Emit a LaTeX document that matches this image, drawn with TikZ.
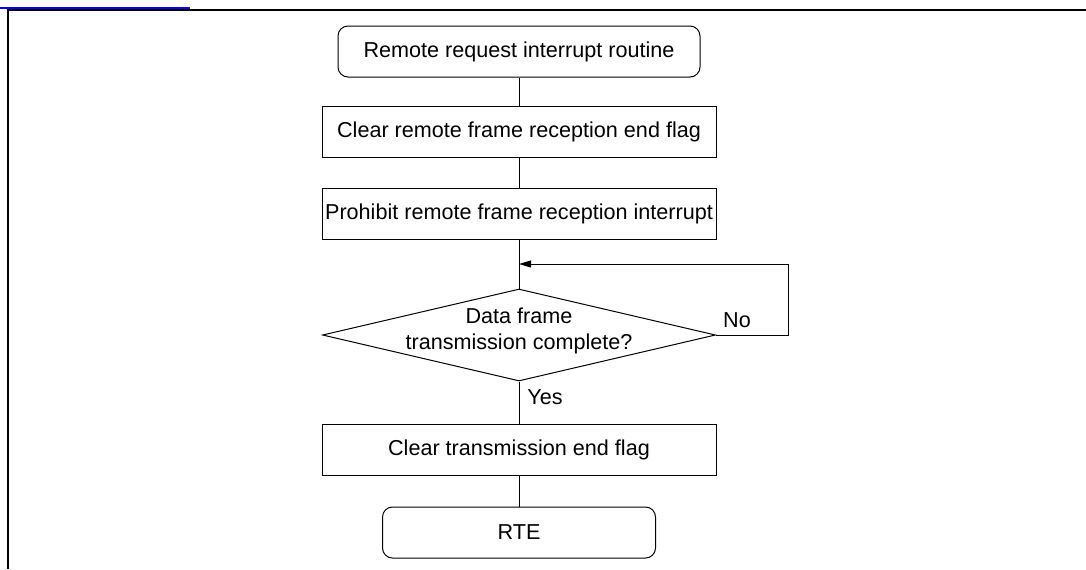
\documentclass[tikz,border=0pt]{standalone}
\usepackage{fontspec}
\setmainfont{Liberation Sans}
\usetikzlibrary{calc,shapes.geometric,arrows.meta}
\tikzstyle{txt}=[inner sep=0cm, font=\fontsize{10.8}{12.6}\selectfont]
\tikzstyle{proc}=[txt, rectangle, line width=0.5pt, minimum width=\bw, minimum height=\bh, draw=black, fill=white]
\tikzstyle{term}=[proc, rounded corners=5pt, minimum width=\tw]
\tikzstyle{decide}=[diamond, line width=0.5pt, minimum width=\dmw, minimum height=\dmh, draw=black, fill=white, inner sep=0cm]
\tikzstyle{frame}=[line width=1pt]
\newcommand{\bw}{197pt}
\newcommand{\bh}{25.5pt}
\newcommand{\tw}{181pt}
\newcommand{\rw}{136.5pt}
\newcommand{\dmw}{196.5pt}
\newcommand{\dmh}{46pt}

\begin{document}
\begin{tikzpicture}[x=0.5pt,y=-0.5pt]
        \useasboundingbox (0,0) rectangle (1086,569);
        \draw[frame] (1086,10) -- (8,10) -- (8,569);
        \draw[blue, line width=1pt] (0,8) -- (190,8);

        \node[term] (S) at (519,51.5) {Remote request interrupt routine};
        \node[proc] (B1) at (519,132) {Clear remote frame reception end flag};
        \node[proc] (B2) at (519,213.5) {Prohibit remote frame reception interrupt};
        \node[decide] (D) at (519,335) {};
        \node[txt, align=center] (Dt) at ($(D)+(0,-4)$) {Data frame\\transmission complete?};
        \node[proc] (B3) at (519,449.5) {Clear transmission end flag};
        \node[term, minimum width=\rw] (E) at (519,532.5) {RTE};

        \foreach \a/\b in {S/B1,B1/B2,B2/D,D/B3,B3/E}
            \draw[line width=0.5pt] (\a) -- (\b);

        \coordinate (L) at ($(B2.south)!0.5!(D.north)$);
        \draw[line width=0.5pt, -{Triangle[length=6pt,width=3.5pt]}] (D.east) -- ++(72,0) |- (L);
        \node[txt] (No) at (737,320) {No};
        \node[txt] (Yes) at (545,397) {Yes};
\end{tikzpicture}
\end{document}
